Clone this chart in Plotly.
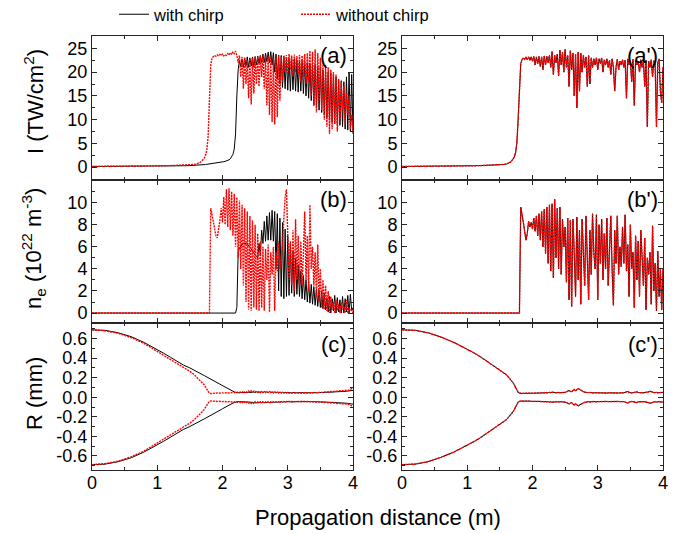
import plotly.graph_objects as go

# ---------------- data ----------------
DISTANCE = [
    0, 0.2, 0.4, 0.6, 0.8, 1.0, 1.1, 1.2, 1.3, 1.4, 1.5, 1.55,
    1.60, 1.62, 1.64, 1.66, 1.68, 1.70, 1.72, 1.74, 1.76, 1.78,
    1.80, 1.82, 1.84, 1.86, 1.88, 1.90, 1.92, 1.94, 1.96, 1.98,
    2.00, 2.02, 2.04, 2.06, 2.08, 2.10, 2.12, 2.14, 2.16, 2.18,
    2.20, 2.22, 2.24, 2.26, 2.28, 2.30, 2.32, 2.34, 2.36, 2.38,
    2.40, 2.42, 2.44, 2.46, 2.48, 2.50, 2.52, 2.54, 2.56, 2.58,
    2.60, 2.62, 2.64, 2.66, 2.68, 2.70, 2.72, 2.74, 2.76, 2.78,
    2.80, 2.82, 2.84, 2.86, 2.88, 2.90, 2.92, 2.94, 2.96, 2.98,
    3.00, 3.02, 3.04, 3.06, 3.08, 3.10, 3.12, 3.14, 3.16, 3.18,
    3.20, 3.22, 3.24, 3.26, 3.28, 3.30, 3.32, 3.34, 3.36, 3.38,
    3.40, 3.42, 3.44, 3.46, 3.48, 3.50, 3.52, 3.54, 3.56, 3.58,
    3.60, 3.62, 3.64, 3.66, 3.68, 3.70, 3.72, 3.74, 3.76, 3.78,
    3.80, 3.82, 3.84, 3.86, 3.88, 3.90, 3.92, 3.94, 3.96, 3.98,
    4.00,
]

# Intensity I (TW/cm^2), panel (a): with chirp
I_CHIRP = [
    0.15, 0.15, 0.16, 0.18, 0.2, 0.22, 0.24, 0.26, 0.28, 0.3, 0.33, 0.35,
    0.38, 0.4, 0.42, 0.45, 0.48, 0.5, 0.53, 0.56, 0.6, 0.63,
    0.67, 0.7, 0.74, 0.78, 0.82, 0.86, 0.9, 0.95, 1.0, 1.05,
    1.1, 1.16, 1.22, 1.3, 1.4, 1.55, 1.75, 2.1, 2.7, 3.8,
    7, 15, 20.5, 22.5, 21.2, 22.8, 21, 23, 21.2, 23.2,
    21, 23, 21.3, 23.2, 21, 23.3, 21.5, 23.4, 21.8, 23.5,
    22, 23.8, 22, 24, 22.2, 24.2, 22, 24.3, 21.5, 24.1,
    20, 23.8, 18.5, 23.6, 17.5, 23.5, 16.8, 23.3, 16.5, 23.2,
    16.2, 23, 16, 22.8, 16.3, 22.8, 16, 22.5, 15.8, 22.4,
    16, 22.3, 15.5, 22, 15, 22, 14.5, 21.8, 14, 21.5,
    13, 21.5, 12.5, 21.2, 12, 21, 11.5, 20.5, 11, 20.3,
    10.5, 20, 10, 19.8, 9.5, 19.5, 9.2, 19, 9, 18.5,
    8.8, 18.2, 8.5, 18, 8, 19, 7.8, 20, 7.5, 19.5,
    7,
]

# Intensity, panel (a): without chirp
I_NOCHIRP = [
    0.15, 0.15, 0.17, 0.2, 0.23, 0.27, 0.3, 0.33, 0.37, 0.42, 0.5, 0.56,
    0.65, 0.75, 0.9, 1.05, 1.25, 1.5, 1.9, 2.5, 3.6, 6.5,
    15, 21.5, 23, 23.2, 23.5, 23.3, 23.6, 23.4, 23.7, 23.5,
    23.8, 23.4, 23.7, 23.5, 23.9, 23.6, 24.1, 23.7, 24.3, 23.9,
    24.4, 23.5, 22, 23.5, 19, 23.2, 16.5, 23, 17.5, 22.5,
    14.5, 22.8, 13.2, 23, 15.5, 23.2, 17.5, 23.3, 17, 23.4,
    19, 23.5, 16.5, 23, 13, 23.4, 11, 23.2, 9.5, 22.8,
    9, 23, 10.5, 23.5, 14, 23.3, 18, 23.5, 20, 23.6,
    19.5, 23.8, 20.5, 23.5, 19, 23.7, 20, 23.4, 19.5, 23.6,
    18, 23.5, 19, 23.8, 17.5, 24, 18, 24.5, 15, 24.3,
    13, 24.8, 11.5, 24, 14, 23, 12, 22, 10, 21.5,
    8.5, 21, 7, 20.5, 8, 20, 9, 19.5, 7.5, 18.5,
    10, 18, 12, 17, 9, 16, 11, 15, 8, 11,
    7.5,
]

# Intensity, panel (a'): both cases coincide
I_RIGHT = [
    0.15, 0.15, 0.17, 0.2, 0.23, 0.27, 0.3, 0.33, 0.37, 0.42, 0.5, 0.56,
    0.65, 0.75, 0.9, 1.05, 1.3, 1.6, 2.1, 3, 5, 10,
    18, 21.8, 22.6, 23, 22.7, 23.1, 22.6, 23.2, 22.5, 23.2,
    22.3, 23.3, 21.5, 23.2, 21.8, 23.3, 21.2, 23.2, 20.5, 23.4,
    21.5, 23.3, 22, 23.5, 21, 24.3, 19.5, 23.5, 22, 23.8,
    19.2, 24.6, 21.5, 24.2, 20, 24.8, 21, 23.5, 17, 24.5,
    20.5, 24, 15, 23.8, 12.5, 24.2, 16, 24, 20, 23.5,
    21, 23.2, 17, 23.5, 17.5, 23, 21, 22.8, 21.5, 23,
    20.5, 22.8, 21.8, 23, 20, 22.6, 21.5, 22.8, 21, 22.5,
    19.5, 22.8, 21, 16, 21, 22.7, 20.5, 22.3, 21.5, 22.6,
    21, 22.5, 14.5, 22.8, 21.5, 22.4, 18, 22.7, 13, 22.5,
    21.5, 22.3, 20, 22.6, 21, 22.4, 17, 22.5, 8.5, 22.3,
    21, 22.6, 19, 22.4, 21.5, 8.5, 22, 22.8, 16, 13.5,
    21,
]

# Electron density n_e (1e22 m^-3), panel (b): with chirp
NE_CHIRP = [
    0, 0, 0, 0, 0, 0, 0, 0, 0, 0, 0, 0,
    0, 0, 0, 0, 0, 0, 0, 0, 0, 0,
    0, 0, 0, 0, 0, 0, 0, 0, 0, 0,
    0, 0, 0, 0, 0, 0, 0, 0, 0, 0,
    0, 0.5, 5.5, 5.9, 6.1, 6.2, 6.3, 6.3, 6.3, 6.2,
    6.1, 6.0, 5.8, 5.6, 5.4, 5.2, 5.1, 5.0, 6.3, 5.2,
    7.5, 6.3, 8.3, 6.5, 8.8, 6.6, 9.1, 6.6, 9.3, 6.5,
    9.2, 4, 9, 2, 8.6, 1.5, 8.2, 1.3, 7.6, 1.5,
    7, 1.6, 6.3, 1.8, 5.6, 1.5, 5, 1.7, 4.4, 1.5,
    3.8, 1.3, 3.4, 1.2, 3, 1, 2.8, 0.9, 2.6, 0.8,
    2.4, 0.7, 2.2, 0.6, 2.1, 0.5, 2, 0.4, 1.8, 0.3,
    1.4, 0.1, 1.5, 0, 1.3, 0.2, 1.6, 0, 1.4, 0.1,
    1.2, 0, 1.5, 0, 1.3, 0.1, 1.6, 0, 1.7, 0.2,
    0.5,
]

# Electron density, panel (b): without chirp
NE_NOCHIRP = [
    0, 0, 0, 0, 0, 0, 0, 0, 0, 0, 0, 0,
    0, 0, 0, 0, 0, 0, 0, 0, 0, 0,
    0, 9.5, 9, 8.3, 7.6, 7, 6.8, 7.5, 8.4, 9.5,
    8.2, 10.5, 8, 11.2, 7.8, 11.3, 7.5, 11, 7, 10.8,
    6, 10.5, 5, 10.2, 4, 9.8, 2.5, 9.5, 1, 9.2,
    0.3, 8.8, 0.2, 8.4, 0.5, 8, 0.3, 7.2, 0.2, 6.5,
    0.5, 6, 0.2, 5.8, 3, 6.2, 0.1, 5.5, 3.5, 6,
    0.2, 5.5, 3.8, 6.5, 4, 5.2, 6, 8.5, 10.5, 11.2,
    6, 3, 6.5, 2.5, 7.5, 2, 8.5, 3, 7, 2.5,
    6.5, 2.5, 5.5, 9.2, 3, 7, 2, 9.8, 4, 6,
    2.5, 5.5, 1.5, 6.2, 1, 4, 0.5, 3, 0.3, 2.5,
    0.2, 2, 0, 1.5, 0.3, 1, 0, 1.2, 0.2, 0.8,
    0, 1, 0.3, 0.6, 0, 1.2, 0, 0.5, 0.2, 0.3,
    0,
]

# Electron density, panel (b'): both cases coincide
NE_RIGHT = [
    0, 0, 0, 0, 0, 0, 0, 0, 0, 0, 0, 0,
    0, 0, 0, 0, 0, 0, 0, 0, 0, 0,
    0, 9.6, 9, 8.2, 7.4, 6.6, 7.2, 8.3, 7.8, 8.2,
    7.6, 8.6, 7.4, 8.8, 7, 9, 6.6, 9.2, 6, 9.4,
    5.4, 9.6, 4.5, 9.8, 3.8, 9.9, 3.2, 10.3, 5, 9.5,
    4, 9.6, 3.5, 8.5, 6, 7.8, 2.8, 8.6, 1.2, 8.4,
    0.6, 8.5, 5.5, 1.5, 8.7, 3, 7.5, 0.8, 8.5, 5,
    2.5, 8.8, 5, 1.2, 7.5, 3.5, 9, 5.5, 4, 8.9,
    1.2, 8, 4.5, 8.5, 3, 7.2, 4, 8.6, 2.5, 6.5,
    8.8, 4, 0.7, 7.5, 4.5, 8.8, 3.5, 6, 4.2, 7.8,
    4.5, 8.9, 3.8, 6.2, 1.5, 8, 4, 5.5, 0.5, 7,
    3, 6.5, 1.5, 7.5, 4, 2.5, 6.8, 0.3, 5, 3.5,
    5.5, 0.8, 7.9, 2, 4.5, 0.2, 5.6, 1.5, 4, 0.3,
    4,
]

# Beam radius R (mm), panel (c): with chirp (upper branch; lower branch is -R)
R_CHIRP = [
    0.69, 0.685, 0.66, 0.62, 0.56, 0.49, 0.45, 0.41, 0.37, 0.33, 0.30, 0.28,
    0.265, 0.258, 0.25, 0.243, 0.236, 0.229, 0.222, 0.215, 0.21, 0.205,
    0.198, 0.19, 0.182, 0.174, 0.166, 0.158, 0.15, 0.142, 0.134, 0.126,
    0.118, 0.11, 0.102, 0.094, 0.086, 0.079, 0.072, 0.066, 0.06, 0.055,
    0.05, 0.046, 0.044, 0.045, 0.047, 0.046, 0.048, 0.047, 0.049, 0.048,
    0.05, 0.048, 0.052, 0.05, 0.054, 0.047, 0.055, 0.046, 0.056, 0.045,
    0.057, 0.044, 0.058, 0.045, 0.057, 0.044, 0.058, 0.045, 0.056, 0.044,
    0.055, 0.045, 0.054, 0.044, 0.053, 0.045, 0.052, 0.044, 0.05, 0.045,
    0.049, 0.045, 0.048, 0.044, 0.048, 0.045, 0.047, 0.045, 0.047, 0.046,
    0.046, 0.045, 0.046, 0.044, 0.045, 0.044, 0.045, 0.045, 0.046, 0.045,
    0.046, 0.046, 0.047, 0.046, 0.048, 0.047, 0.049, 0.048, 0.05, 0.049,
    0.051, 0.05, 0.052, 0.052, 0.054, 0.053, 0.055, 0.055, 0.057, 0.056,
    0.058, 0.058, 0.06, 0.06, 0.062, 0.061, 0.063, 0.064, 0.066, 0.067,
    0.07,
]

# Beam radius, panel (c): without chirp
R_NOCHIRP = [
    0.69, 0.68, 0.655, 0.61, 0.55, 0.47, 0.43, 0.39, 0.35, 0.31, 0.265, 0.24,
    0.21, 0.198, 0.186, 0.172, 0.158, 0.142, 0.125, 0.105, 0.085, 0.062,
    0.04, 0.038, 0.04, 0.039, 0.042, 0.04, 0.043, 0.041, 0.044, 0.042,
    0.045, 0.042, 0.046, 0.043, 0.047, 0.044, 0.048, 0.045, 0.05, 0.046,
    0.052, 0.047, 0.055, 0.048, 0.058, 0.05, 0.062, 0.049, 0.06, 0.051,
    0.063, 0.05, 0.065, 0.052, 0.062, 0.05, 0.064, 0.053, 0.061, 0.05,
    0.058, 0.05, 0.06, 0.051, 0.057, 0.049, 0.058, 0.05, 0.055, 0.048,
    0.056, 0.047, 0.054, 0.046, 0.053, 0.045, 0.052, 0.044, 0.05, 0.044,
    0.048, 0.043, 0.047, 0.043, 0.046, 0.042, 0.045, 0.042, 0.045, 0.041,
    0.044, 0.041, 0.044, 0.042, 0.045, 0.043, 0.046, 0.044, 0.047, 0.045,
    0.048, 0.046, 0.049, 0.047, 0.05, 0.048, 0.052, 0.05, 0.054, 0.052,
    0.056, 0.054, 0.058, 0.056, 0.06, 0.058, 0.062, 0.06, 0.064, 0.062,
    0.066, 0.064, 0.068, 0.066, 0.07, 0.069, 0.074, 0.072, 0.08, 0.085,
    0.095,
]

# Beam radius, panel (c'): both cases coincide
R_RIGHT = [
    0.69, 0.685, 0.66, 0.615, 0.56, 0.495, 0.455, 0.415, 0.37, 0.325, 0.28, 0.255,
    0.23, 0.215, 0.2, 0.185, 0.168, 0.15, 0.128, 0.1, 0.07, 0.05,
    0.042, 0.038, 0.039, 0.04, 0.039, 0.041, 0.04, 0.041, 0.04, 0.042,
    0.041, 0.042, 0.041, 0.043, 0.042, 0.044, 0.043, 0.045, 0.044, 0.046,
    0.045, 0.048, 0.046, 0.05, 0.047, 0.052, 0.048, 0.05, 0.046, 0.048,
    0.045, 0.047, 0.046, 0.048, 0.047, 0.05, 0.055, 0.065, 0.07, 0.06,
    0.055, 0.07, 0.08, 0.065, 0.075, 0.09, 0.08, 0.07, 0.065, 0.058,
    0.052, 0.048, 0.05, 0.046, 0.048, 0.045, 0.047, 0.044, 0.046, 0.045,
    0.044, 0.046, 0.045, 0.044, 0.043, 0.045, 0.044, 0.043, 0.045, 0.044,
    0.043, 0.044, 0.042, 0.043, 0.044, 0.042, 0.043, 0.045, 0.044, 0.043,
    0.045, 0.05, 0.055, 0.06, 0.05, 0.045, 0.044, 0.046, 0.05, 0.058,
    0.055, 0.048, 0.045, 0.044, 0.046, 0.045, 0.047, 0.048, 0.05, 0.055,
    0.062, 0.055, 0.05, 0.048, 0.047, 0.05, 0.045, 0.048, 0.05, 0.052,
    0.05,
]

SERIES_NAMES = ["with chirp", "without chirp"]
PANEL_LABELS = ["(a)", "(a')", "(b)", "(b')", "(c)", "(c')"]
X_TICKS = [0, 1, 2, 3, 4]
X_TICK_LABELS = ["0", "1", "2", "3", "4"]
I_TICKS = [0, 5, 10, 15, 20, 25]
I_TICK_LABELS = ["0", "5", "10", "15", "20", "25"]
NE_TICKS = [0, 2, 4, 6, 8, 10]
NE_TICK_LABELS = ["0", "2", "4", "6", "8", "10"]
R_TICKS = [-0.6, -0.4, -0.2, 0.0, 0.2, 0.4, 0.6]
R_TICK_LABELS = ["-0.6", "-0.4", "-0.2", "0.0", "0.2", "0.4", "0.6"]
Y_TITLES = ["I (TW/cm<sup>2</sup>)", "n<sub>e</sub> (10<sup>22</sup> m<sup>-3</sup>)", "R (mm)"]
X_TITLE = "Propagation distance (m)"

for arr in [I_CHIRP, I_NOCHIRP, I_RIGHT, NE_CHIRP, NE_NOCHIRP, NE_RIGHT,
            R_CHIRP, R_NOCHIRP, R_RIGHT]:
    assert len(arr) == len(DISTANCE), len(arr)

# ---------------- figure ----------------
FONT = "Arial, 'Liberation Sans', sans-serif"
BLACK = "#000000"
RED = "#ff0000"
AXC = "#262626"

fig = go.Figure()
legend_done = {"black": False, "red": False}


def add_pair(yb, yr, xa, ya, neg=False):
    for ys, color, name in [(yb, BLACK, SERIES_NAMES[0]), (yr, RED, SERIES_NAMES[1])]:
        key = "black" if color == BLACK else "red"
        vals = [-v for v in ys] if neg else ys
        show = not legend_done[key]
        legend_done[key] = True
        if color == BLACK:
            line = dict(color=BLACK, width=1)
        else:
            line = dict(color=RED, width=1.4, dash="2px,1px")
        fig.add_trace(go.Scatter(x=DISTANCE, y=vals, mode="lines", line=line,
                                 name=name, showlegend=show, legendgroup=key,
                                 xaxis=xa, yaxis=ya))


add_pair(I_CHIRP, I_NOCHIRP, "x", "y")
add_pair(I_RIGHT, I_RIGHT, "x2", "y2")
add_pair(NE_CHIRP, NE_NOCHIRP, "x3", "y3")
add_pair(NE_RIGHT, NE_RIGHT, "x4", "y4")
add_pair(R_CHIRP, R_NOCHIRP, "x5", "y5")
add_pair(R_CHIRP, R_NOCHIRP, "x5", "y5", neg=True)
add_pair(R_RIGHT, R_RIGHT, "x6", "y6")
add_pair(R_RIGHT, R_RIGHT, "x6", "y6", neg=True)

W, H = 685, 534
XL = [92 / W, 353 / W]
XR = [402 / W, 663 / W]
YT = [1 - 180 / H, 1 - 36 / H]
YM = [1 - 323 / H, 1 - 180 / H]
YB = [1 - 470 / H, 1 - 323 / H]

tickfont = dict(family=FONT, size=18, color="black")


def base_axis():
    return dict(showline=True, linecolor=AXC, linewidth=1, mirror="allticks",
                ticks="inside", ticklen=5, tickwidth=1, tickcolor=AXC,
                showgrid=False, zeroline=False, tickfont=tickfont,
                automargin=False, tickmode="array")


def xaxis(domain, anchor, labels):
    d = base_axis()
    d.update(domain=domain, anchor=anchor, range=[0, 4], tickvals=X_TICKS,
             ticktext=X_TICK_LABELS, showticklabels=labels, ticklabelstandoff=-4,
             minor=dict(tickmode="linear", tick0=0, dtick=0.5, ticks="inside",
                        ticklen=3, tickcolor=AXC, showgrid=False))
    return d


def yaxis(domain, anchor, rng, tv, tt, minor_dtick):
    d = base_axis()
    d.update(domain=domain, anchor=anchor, range=rng, tickvals=tv, ticktext=tt,
             minor=dict(tickmode="linear", tick0=0, dtick=minor_dtick,
                        ticks="inside", ticklen=3, tickcolor=AXC, showgrid=False))
    return d


I_RANGE = [-2.7, 27.6]
NE_RANGE = [-0.9, 12.05]
R_RANGE = [-0.745, 0.76]

fig.update_layout(
    width=W, height=H,
    margin=dict(l=0, r=0, t=0, b=0, autoexpand=False),
    paper_bgcolor="white", plot_bgcolor="white",
    font=dict(family=FONT, color="black"),
    xaxis=xaxis(XL, "y", False), yaxis=yaxis(YT, "x", I_RANGE, I_TICKS, I_TICK_LABELS, 2.5),
    xaxis2=xaxis(XR, "y2", False), yaxis2=yaxis(YT, "x2", I_RANGE, I_TICKS, I_TICK_LABELS, 2.5),
    xaxis3=xaxis(XL, "y3", False), yaxis3=yaxis(YM, "x3", NE_RANGE, NE_TICKS, NE_TICK_LABELS, 1),
    xaxis4=xaxis(XR, "y4", False), yaxis4=yaxis(YM, "x4", NE_RANGE, NE_TICKS, NE_TICK_LABELS, 1),
    xaxis5=xaxis(XL, "y5", True), yaxis5=yaxis(YB, "x5", R_RANGE, R_TICKS, R_TICK_LABELS, 0.1),
    xaxis6=xaxis(XR, "y6", True), yaxis6=yaxis(YB, "x6", R_RANGE, R_TICKS, R_TICK_LABELS, 0.1),
    legend=dict(orientation="h", x=114 / W, xanchor="left", y=1 + 3 / H, yanchor="top",
                font=dict(family=FONT, size=16.5, color="black"),
                entrywidth=137, entrywidthmode="pixels",
                bgcolor="rgba(0,0,0,0)", borderwidth=0, itemwidth=30),
)

annotations = []
# y-axis titles
for txt, yc in zip(Y_TITLES, [102, 249, 394]):
    annotations.append(dict(text=txt, x=34 / W, y=1 - yc / H, xref="paper", yref="paper",
                            xanchor="center", yanchor="middle", textangle=-90,
                            showarrow=False, font=dict(family=FONT, size=22, color="black")))
annotations.append(dict(text=X_TITLE, x=378 / W, y=1 - 517 / H, xref="paper", yref="paper",
                        xanchor="center", yanchor="middle", showarrow=False,
                        font=dict(family=FONT, size=22, color="black")))
# panel labels
label_pos = [(349, 55), (660, 55), (349, 199), (660, 199), (349, 344), (660, 344)]
for txt, (px, py) in zip(PANEL_LABELS, label_pos):
    annotations.append(dict(text=txt, x=px / W, y=1 - py / H, xref="paper", yref="paper",
                            xanchor="right", yanchor="middle", showarrow=False,
                            font=dict(family=FONT, size=22, color="black")))
fig.update_layout(annotations=annotations)

fig.write_html("out.html")
